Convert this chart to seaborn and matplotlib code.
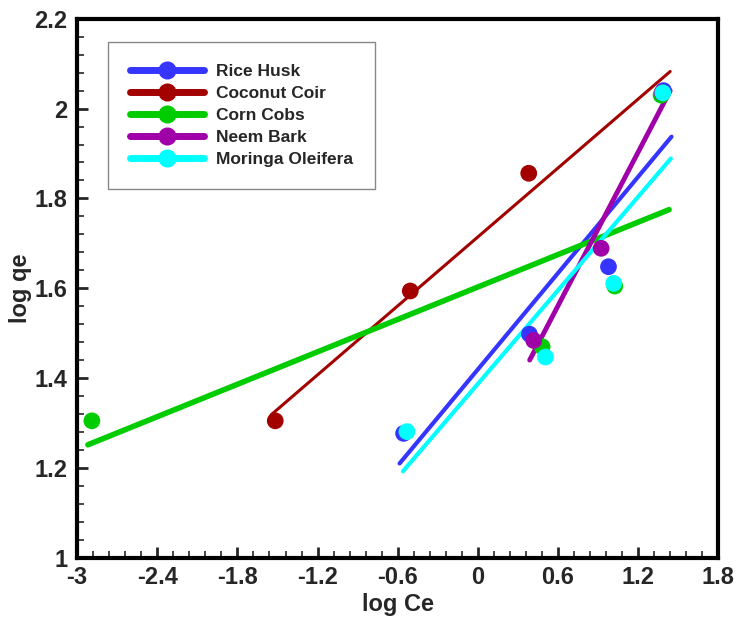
import numpy as np
import pandas as pd
import seaborn as sns
import matplotlib.pyplot as plt
from matplotlib.lines import Line2D
from matplotlib.ticker import AutoMinorLocator

# values
rice_x = [-0.556, 0.386, 0.978, 1.390]
rice_y = [1.277, 1.498, 1.648, 2.040]
coir_x = [-1.517, -0.506, 0.381, 1.380]
coir_y = [1.305, 1.594, 1.856, 2.035]
corn_x = [-2.890, 0.481, 1.025, 1.372]
corn_y = [1.305, 1.470, 1.605, 2.030]
neem_x = [0.418, 0.923, 1.380]
neem_y = [1.484, 1.689, 2.035]
moringa_x = [-0.531, 0.506, 1.017, 1.385]
moringa_y = [1.281, 1.447, 1.611, 2.035]

names = ['Rice Husk', 'Coconut Coir', 'Corn Cobs', 'Neem Bark', 'Moringa Oleifera']
colors = ['#3535ff', '#a30000', '#00cc00', '#a000a8', '#00ffff']
widths = [3, 2.2, 4, 3.5, 3]
xs = [rice_x, coir_x, corn_x, neem_x, moringa_x]
ys = [rice_y, coir_y, corn_y, neem_y, moringa_y]

sns.set_style('ticks')
plt.rcParams['font.family'] = ['Liberation Sans', 'DejaVu Sans']
plt.rcParams['font.weight'] = 'bold'

fig = plt.figure(figsize=(7.42, 6.24), dpi=100)
ax = fig.add_axes([0.104, 0.106, 0.864, 0.864])

handles = []
for name, col, lw, x, y in zip(names, colors, widths, xs, ys):
    # least-squares line, like the original
    k, b = np.polyfit(x, y, 1)
    fx = np.array([min(x) - 0.03, max(x) + 0.06])
    fit = pd.DataFrame({'x': fx, 'y': k * fx + b})
    sns.lineplot(data=fit, x='x', y='y', color=col, lw=lw, ax=ax)
    pts = pd.DataFrame({'x': x, 'y': y})
    sns.scatterplot(data=pts, x='x', y='y', color=col, s=145, edgecolor='none', ax=ax, zorder=3)
    handles.append(Line2D([], [], color=col, lw=5, marker='o', markersize=12, label=name))

ax.set_xlim(-3, 1.8)
ax.set_ylim(1, 2.2)
ax.set_xticks(np.arange(-3, 1.81, 0.6))
ax.set_xticklabels(['-3', '-2.4', '-1.8', '-1.2', '-0.6', '0', '0.6', '1.2', '1.8'])
ax.set_yticks([1, 1.2, 1.4, 1.6, 1.8, 2, 2.2])
ax.set_yticklabels(['1', '1.2', '1.4', '1.6', '1.8', '2', '2.2'])
ax.xaxis.set_minor_locator(AutoMinorLocator(5))
ax.yaxis.set_minor_locator(AutoMinorLocator(5))
ax.tick_params(which='major', direction='in', length=8, width=2, labelsize=17)
ax.tick_params(axis='x', which='major', pad=6)
ax.tick_params(axis='y', which='major', pad=7)
ax.tick_params(which='minor', direction='in', length=5, width=1.2)
for s in ax.spines.values():
    s.set_linewidth(3)
    s.set_color('black')

ax.set_xlabel('log Ce', fontsize=17, fontweight='bold', labelpad=3)
ax.set_ylabel('log qe', fontsize=17, fontweight='bold', labelpad=2)

leg = ax.legend(handles=handles, loc='upper left', bbox_to_anchor=(0.048, 0.957),
                borderaxespad=0, handlelength=4.3, labelspacing=0.4,
                fancybox=False, frameon=True, borderpad=1.25, handletextpad=0.7,
                prop={'family': ['Liberation Sans', 'DejaVu Sans'], 'weight': 'bold', 'size': 12.5})
leg.get_frame().set_edgecolor('#888888')
leg.get_frame().set_linewidth(1)
leg.get_frame().set_alpha(1)

plt.savefig('out.png', dpi=100)
plt.close()
